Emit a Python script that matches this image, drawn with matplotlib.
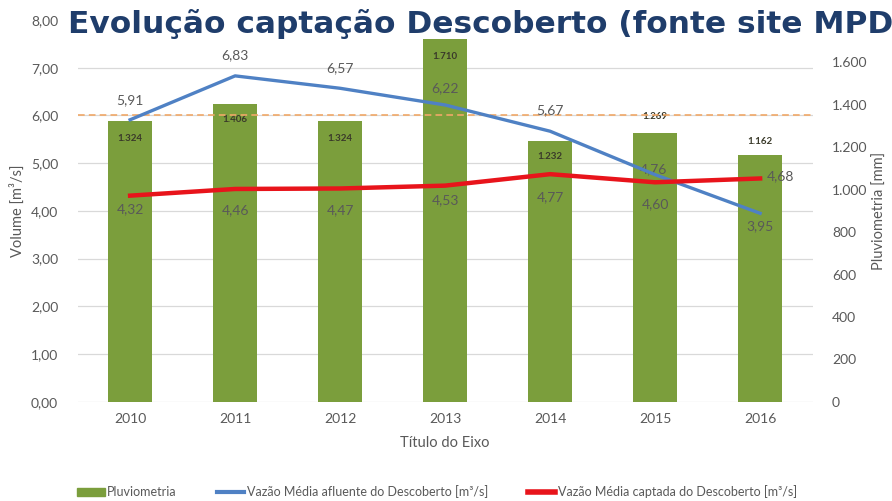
import matplotlib.pyplot as plt
from matplotlib.patches import Patch
from matplotlib.lines import Line2D
from matplotlib.ticker import FuncFormatter

# data
anos = ['2010', '2011', '2012', '2013', '2014', '2015', '2016']
pluviometria = [1324, 1406, 1324, 1710, 1232, 1269, 1162]
vazao_afluente = [5.91, 6.83, 6.57, 6.22, 5.67, 4.76, 3.95]
vazao_captada = [4.32, 4.46, 4.47, 4.53, 4.77, 4.60, 4.68]
limite = 6.00

# label offsets in pixels (dx, dy), like the moved Excel labels
off_bar = [(0, -18), (0, -16), (0, -18), (0, -17), (0, -16), (0, 16), (0, 14)]
off_azul = [(0, 20), (0, 21), (0, 20), (0, 17), (0, 21), (-2, 5), (0, -13)]
off_verm = [(0, -14), (0, -21), (0, -22), (0, -15), (0, -23), (0, -22), (20, 2)]

cinza = '#595959'
verde = '#7B9E3C'
azul = '#4F81C4'
vermelho = '#E8141B'

plt.rcParams['font.family'] = ['Lato', 'DejaVu Sans']

def virgula(v, pos=None):
    return f'{v:.2f}'.replace('.', ',')

def milhar(v, pos=None):
    return f'{int(v):,}'.replace(',', '.')

fig = plt.figure(figsize=(8.92, 5.01), dpi=100)
ax = fig.add_axes([0.087, 0.198, 0.824, 0.762])
ax2 = ax.twinx()
ax.set_zorder(ax2.get_zorder() + 1)
ax.patch.set_visible(False)

x = list(range(len(anos)))

# bars on the right axis
bars = ax2.bar(x, pluviometria, width=0.42, color=verde, zorder=2)
ax2.set_ylim(0, 1800)
ax2.set_yticks(range(0, 1601, 200))
ax2.yaxis.set_major_formatter(FuncFormatter(milhar))
for xi, v, (dx, dy) in zip(x, pluviometria, off_bar):
    ax2.annotate(milhar(v), (xi, v), xytext=(dx, dy), textcoords='offset pixels',
                 ha='center', va='center', fontsize=7, fontweight='bold',
                 color='#3A3A2A')

# lines on the left axis
ax.plot(x, vazao_afluente, color=azul, lw=2.4, zorder=4)
ax.plot(x, vazao_captada, color=vermelho, lw=3.2, zorder=5)
ax.axhline(limite, color='#F0A868', lw=1.2, ls=(0, (4, 2.5)), zorder=3)
for xi, v, (dx, dy) in zip(x, vazao_afluente, off_azul):
    ax.annotate(virgula(v), (xi, v), xytext=(dx, dy), textcoords='offset pixels',
                ha='center', va='center', fontsize=10, color=cinza)
for xi, v, (dx, dy) in zip(x, vazao_captada, off_verm):
    ax.annotate(virgula(v), (xi, v), xytext=(dx, dy), textcoords='offset pixels',
                ha='center', va='center', fontsize=10, color=cinza)

ax.set_ylim(0, 8)
ax.set_yticks(range(0, 9))
ax.yaxis.set_major_formatter(FuncFormatter(virgula))
ax.set_xlim(-0.5, len(anos) - 0.5)
ax.set_xticks(x)
ax.set_xticklabels(anos)

# gridlines drawn on the back axis so bars sit on top
for g in range(0, 8):
    ax2.axhline(g * 225, color='#D9D9D9', lw=0.9, zorder=1)

for a in (ax, ax2):
    for s in a.spines.values():
        s.set_visible(False)
    a.tick_params(length=0, labelsize=10, labelcolor=cinza)
ax.tick_params(axis='y', pad=14)
ax.tick_params(axis='x', pad=8)
ax2.tick_params(axis='y', pad=14)

ax.set_xlabel('Título do Eixo', fontsize=10.5, color=cinza, labelpad=8)
ax.set_ylabel('Volume [m³/s]', fontsize=10.5, color=cinza, labelpad=4)
ax2.set_ylabel('Pluviometria [mm]', fontsize=10.5, color=cinza, labelpad=4)

handles = [Patch(color=verde),
           Line2D([], [], color=azul, lw=3),
           Line2D([], [], color=vermelho, lw=4)]
rotulos = ['Pluviometria',
           'Vazão Média afluente do Descoberto [m³/s]',
           'Vazão Média captada do Descoberto [m³/s]']
fig.legend(handles, rotulos, loc='center', bbox_to_anchor=(0.49, 0.018),
           ncol=3, frameon=False, fontsize=9, labelcolor=cinza,
           handlelength=2.2, handletextpad=0.2, columnspacing=3.2)

# the title runs off the right edge in the original slide
fig.text(0.076, 0.953, 'Evolução captação Descoberto (fonte site MPD',
         fontsize=22.5, fontweight='bold', color='#1F3D6B',
         family='DejaVu Sans', va='center', ha='left')

fig.savefig('out.png', dpi=100)
